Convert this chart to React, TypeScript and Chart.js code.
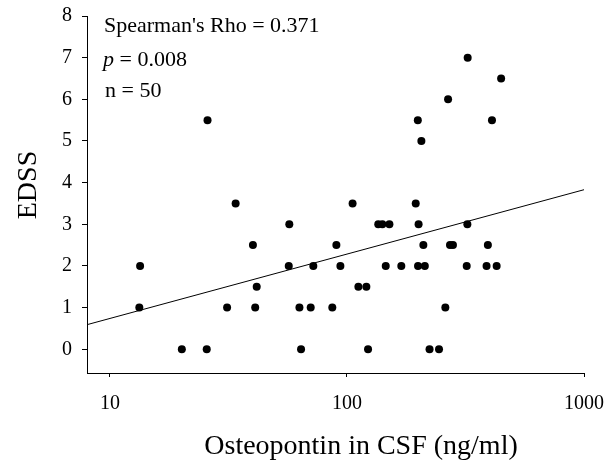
import React, { useEffect, useRef } from "react";
import { Chart, registerables } from "chart.js";

Chart.register(...registerables);

const osteopontin = [
  13.4, 13.3, 20.1, 25.6, 25.8, 31.2, 33.9, 40.1, 41.0, 41.6, 57.1, 56.8, 63.0, 64.0,
  70.3, 72.1, 86.7, 90.2, 93.8, 111.7, 120.7, 122.7, 145.7, 169.5, 199.4, 210, 213,
  223, 244.5, 260, 272, 280, 320, 388, 393, 428, 105.6, 195, 135.5, 141, 151, 200.5,
  322, 199, 206, 267, 323, 409, 447,
];
const edss = [
  2, 1, 0, 0, 5.5, 1, 3.5, 2.5, 1, 1.5, 3, 2, 1, 0,
  1, 2, 1, 2.5, 2, 1.5, 1.5, 0, 2, 2, 2, 2.5, 2,
  0, 0, 1, 2.5, 2.5, 2, 2, 2.5, 2, 3.5, 3.5, 3, 3, 3, 3,
  3, 5.5, 5, 6, 7, 5.5, 6.5,
];
const fitX = [8, 1000];
const fitY = [0.59, 3.83];
const xTicks = [10, 100, 1000];
const yTicks = [0, 1, 2, 3, 4, 5, 6, 7, 8];
const statLines = ["Spearman's Rho = 0.371", "= 0.008", "n = 50"];
const xTitle = "Osteopontin in CSF (ng/ml)";
const yTitle = "EDSS";

const FONT = "'Liberation Serif', 'Times New Roman', serif";

const textPlugin = {
  id: "textPlugin",
  afterDraw(chart: any) {
    const ctx = chart.ctx;
    ctx.save();
    ctx.fillStyle = "#000";
    ctx.textBaseline = "alphabetic";
    ctx.textAlign = "left";
    ctx.font = `22px ${FONT}`;
    ctx.fillText(statLines[0], 104, 32);
    ctx.font = `italic 22px ${FONT}`;
    ctx.fillText("p", 103, 66);
    const pw = ctx.measureText("p ").width;
    ctx.font = `22px ${FONT}`;
    ctx.fillText(statLines[1], 103 + pw, 66);
    ctx.fillText(statLines[2], 105, 97);

    ctx.font = `28px ${FONT}`;
    ctx.textAlign = "center";
    ctx.textBaseline = "middle";
    ctx.fillText(xTitle, 361, 447);
    ctx.translate(29, 185);
    ctx.rotate(-Math.PI / 2);
    ctx.fillText(yTitle, 0, 0);
    ctx.restore();
  },
};

export default function App() {
  const ref = useRef<HTMLCanvasElement>(null);
  useEffect(() => {
    if (!ref.current) return;
    const points = osteopontin.map((x, i) => ({ x, y: edss[i] }));
    const fit = fitX.map((x, i) => ({ x, y: fitY[i] }));
    const chart = new Chart(ref.current, {
      type: "scatter",
      data: {
        datasets: [
          {
            type: "line",
            data: fit,
            borderColor: "#000",
            borderWidth: 1,
            pointRadius: 0,
            fill: false,
          } as any,
          {
            data: points,
            backgroundColor: "#000",
            borderWidth: 0,
            pointRadius: 4,
          },
        ],
      },
      options: {
        animation: false,
        responsive: false,
        maintainAspectRatio: false,
        devicePixelRatio: 1,
        layout: { padding: { top: 16, right: 28, left: 0, bottom: 0 } },
        plugins: { legend: { display: false }, tooltip: { enabled: false } },
        scales: {
          x: {
            type: "logarithmic",
            min: 8,
            max: 1000,
            position: "bottom",
            grid: { drawOnChartArea: false, drawTicks: true, tickLength: 4, tickColor: "#000" },
            border: { display: true, color: "#000", width: 1 },
            ticks: {
              color: "#000",
              font: { family: FONT, size: 20 },
              padding: 15,
              autoSkip: false,
              maxRotation: 0,
              callback: (v: any) => String(v),
            },
            afterBuildTicks: (s: any) => {
              s.ticks = xTicks.map((v) => ({ value: v }));
            },
            afterFit: (s: any) => {
              s.height = 92;
              s.paddingLeft = 0;
              s.paddingRight = 0;
            },
          },
          y: {
            type: "linear",
            min: -0.57,
            max: 8,
            grid: { drawOnChartArea: false, drawTicks: true, tickLength: 5, tickColor: "#000" },
            border: { display: true, color: "#000", width: 1 },
            ticks: {
              color: "#000",
              font: { family: FONT, size: 20 },
              padding: 10,
              callback: (v: any) => String(v),
            },
            afterBuildTicks: (s: any) => {
              s.ticks = yTicks.map((v) => ({ value: v }));
            },
            afterFit: (s: any) => {
              s.width = 87;
              s.paddingTop = 0;
              s.paddingBottom = 0;
            },
          },
        },
      },
      plugins: [textPlugin],
    });
    return () => chart.destroy();
  }, []);
  return (
    <div style={{ position: "fixed", left: 0, top: 0, width: 612, height: 465, background: "#fff" }}>
      <canvas ref={ref} width={612} height={465} />
    </div>
  );
}
